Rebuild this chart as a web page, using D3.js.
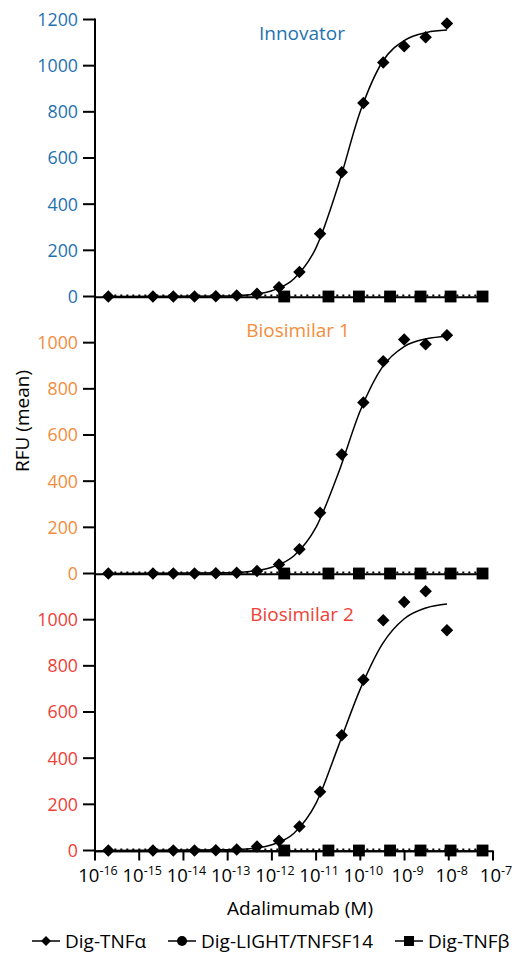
<!DOCTYPE html>
<html>
<head>
    <title>Adalimumab binding - RFU</title>
    <script src="https://d3js.org/d3.v7.min.js"></script>
    <style>
        body {
            margin: 0;
            background: #fff;
            font-family: "Open Sans", Arial, sans-serif;
        }
        svg text {
            font-family: "Open Sans", Arial, sans-serif;
        }
    </style>
</head>
<body>
    <div id="chart"></div>

    <script>
        // Concentrations (M) of the TNFa points
        const tnfaConc = [2.0e-16, 2.04e-15, 5.9e-15, 1.78e-14, 5.4e-14, 1.6e-13, 4.6e-13, 1.45e-12,
                          4.2e-12, 1.23e-11, 3.8e-11, 1.17e-10, 3.3e-10, 9.8e-10, 3.0e-9, 9.1e-9];
        // Concentrations of the TNFb / LIGHT points
        const otherConc = [1.9e-12, 1.9e-11, 9.3e-11, 4.7e-10, 2.3e-9, 1.1e-8, 5.8e-8];

        // Dig-TNFa RFU per panel
        const tnfaInnovator = [0, 0, 0, 0, 1, 4, 12, 40, 106, 272, 538, 838, 1014, 1084, 1123, 1183];
        const tnfaBio1 = [0, 0, 0, 0, 1, 3, 11, 39, 105, 263, 516, 741, 920, 1014, 993, 1032];
        const tnfaBio2 = [0, 0, 0, 0, 1, 4, 17, 42, 104, 254, 499, 740, 997, 1077, 1123, 954];

        // Dig-LIGHT/TNFSF14 and Dig-TNFb RFU (flat at zero)
        const lightValues = [0, 0, 0, 0, 0, 0, 0];
        const tnfbValues = [0, 0, 0, 0, 0, 0, 0];

        // Fitted curve (log10 M -> RFU)
        const fitLogX = [-15.7, -13, -12.5, -12, -11.5, -11, -10.5, -10, -9.5, -9, -8.5, -8.04];
        const fitInnovator = [0, 2.6, 8, 25, 77, 212, 481, 802, 1017, 1110, 1144, 1154];
        const fitBio1 = [0, 3, 9, 27, 77, 201, 433, 706, 895, 984, 1017, 1028];
        const fitBio2 = [0, 3, 8, 25, 75, 205, 450, 700, 895, 1005, 1052, 1068];

        const panelNames = ['Innovator', 'Biosimilar 1', 'Biosimilar 2'];
        const panelColors = ['#1f72b0', '#f48c3b', '#ee4136'];
        const panelTicks = [[0, 200, 400, 600, 800, 1000, 1200], [0, 200, 400, 600, 800, 1000], [0, 200, 400, 600, 800, 1000]];
        const xTickExponents = [-16, -15, -14, -13, -12, -11, -10, -9, -8, -7];
        const legendLabels = ['Dig-TNF\u03b1', 'Dig-LIGHT/TNFSF14', 'Dig-TNF\u03b2'];

        const panels = [
            { name: panelNames[0], color: panelColors[0], ticks: panelTicks[0], tnfa: tnfaInnovator, fit: fitInnovator, titleY: 1113, titleX: 302 },
            { name: panelNames[1], color: panelColors[1], ticks: panelTicks[1], tnfa: tnfaBio1, fit: fitBio1, titleY: 1025, titleX: 298 },
            { name: panelNames[2], color: panelColors[2], ticks: panelTicks[2], tnfa: tnfaBio2, fit: fitBio2, titleY: 993, titleX: 302 }
        ];

        const width = 514, height = 954;
        const plotLeft = 95, plotRight = 493;
        const plotTop = 19.5, panelH = 277;
        const tickFont = 17.8;
        const labelFont = 19;

        const svg = d3.select('#chart').append('svg')
            .attr('width', width)
            .attr('height', height);

        const x = d3.scaleLog().domain([1e-16, 1e-7]).range([plotLeft, plotRight]);

        const diamond = d3.symbol().type(d3.symbolSquare).size(78);
        const square = d3.symbol().type(d3.symbolSquare).size(140);

        panels.forEach((p, i) => {
            const y0 = plotTop + panelH * (i + 1);
            const y = d3.scaleLinear().domain([0, 1200]).range([y0, y0 - panelH]);
            const g = svg.append('g');

            // y ticks + labels
            p.ticks.forEach(t => {
                g.append('line')
                    .attr('x1', plotLeft - 12).attr('x2', plotLeft)
                    .attr('y1', y(t)).attr('y2', y(t))
                    .attr('stroke', '#000').attr('stroke-width', 2);
                g.append('text')
                    .attr('x', plotLeft - 17)
                    .attr('y', y(t))
                    .attr('dy', '0.36em')
                    .attr('text-anchor', 'end')
                    .attr('fill', p.color)
                    .style('font-size', tickFont + 'px')
                    .text(t);
            });

            // baseline (TNFb fit) from the axis to the last square
            g.append('line')
                .attr('x1', plotLeft).attr('x2', x(otherConc[otherConc.length - 1]))
                .attr('y1', y(0) + 0.8).attr('y2', y(0) + 0.8)
                .attr('stroke', '#000').attr('stroke-width', 2);

            // LIGHT dotted line
            g.append('line')
                .attr('x1', x(tnfaConc[0])).attr('x2', x(otherConc[otherConc.length - 1]))
                .attr('y1', y(0) - 1).attr('y2', y(0) - 1)
                .attr('stroke', '#000').attr('stroke-width', 2)
                .attr('stroke-dasharray', '2,4');

            // LIGHT circles (sit under the squares)
            g.selectAll('circle.light')
                .data(otherConc.map((c, j) => [c, lightValues[j]]))
                .join('circle')
                .attr('class', 'light')
                .attr('cx', d => x(d[0]))
                .attr('cy', d => y(d[1]))
                .attr('r', 5)
                .attr('fill', '#000');

            // TNFb squares
            g.selectAll('path.tnfb')
                .data(otherConc.map((c, j) => [c, tnfbValues[j]]))
                .join('path')
                .attr('class', 'tnfb')
                .attr('d', square)
                .attr('transform', d => `translate(${x(d[0])},${y(d[1])})`)
                .attr('fill', '#000');

            // TNFa fit curve
            const line = d3.line()
                .x(d => x(Math.pow(10, d[0])))
                .y(d => y(d[1]))
                .curve(d3.curveMonotoneX);
            g.append('path')
                .datum(fitLogX.map((lx, j) => [lx, p.fit[j]]))
                .attr('d', line)
                .attr('fill', 'none')
                .attr('stroke', '#000')
                .attr('stroke-width', 1.5);

            // TNFa diamonds
            g.selectAll('path.tnfa')
                .data(tnfaConc.map((c, j) => [c, p.tnfa[j]]))
                .join('path')
                .attr('class', 'tnfa')
                .attr('d', diamond)
                .attr('transform', d => `translate(${x(d[0])},${y(d[1])}) rotate(45)`)
                .attr('fill', '#000');

            // panel title
            g.append('text')
                .attr('x', p.titleX)
                .attr('y', y(p.titleY))
                .attr('text-anchor', 'middle')
                .attr('fill', p.color)
                .style('font-size', labelFont + 'px')
                .text(p.name);
        });

        const yBottom = plotTop + panelH * 3;

        // y axis line
        svg.append('line')
            .attr('x1', plotLeft).attr('x2', plotLeft)
            .attr('y1', plotTop - 1).attr('y2', yBottom)
            .attr('stroke', '#000').attr('stroke-width', 2);

        // x axis line
        svg.append('line')
            .attr('x1', plotLeft).attr('x2', plotRight)
            .attr('y1', yBottom + 0.8).attr('y2', yBottom + 0.8)
            .attr('stroke', '#000').attr('stroke-width', 2);

        // x ticks and 10^n labels
        xTickExponents.forEach(e => {
            const xp = x(Math.pow(10, e));
            svg.append('line')
                .attr('x1', xp).attr('x2', xp)
                .attr('y1', yBottom).attr('y2', yBottom + 10)
                .attr('stroke', '#000').attr('stroke-width', 2);
            const t = svg.append('text')
                .attr('x', xp + 3)
                .attr('y', yBottom + 31)
                .attr('text-anchor', 'middle')
                .attr('fill', '#000')
                .style('font-size', '18.5px');
            t.append('tspan').text('10');
            t.append('tspan')
                .attr('dy', '-0.5em')
                .style('font-size', '12.5px')
                .text(e);
        });

        // axis titles
        svg.append('text')
            .attr('x', 300)
            .attr('y', 915)
            .attr('text-anchor', 'middle')
            .style('font-size', labelFont + 'px')
            .text('Adalimumab (M)');

        svg.append('text')
            .attr('transform', 'translate(29,421) rotate(-90)')
            .attr('text-anchor', 'middle')
            .style('font-size', labelFont + 'px')
            .text('RFU (mean)');

        // legend
        const legendX = [32, 168, 395];
        const legendY = 941;
        const legendSymbols = [
            d3.symbol().type(d3.symbolSquare).size(50),
            null,
            d3.symbol().type(d3.symbolSquare).size(100)
        ];
        legendLabels.forEach((label, i) => {
            const lg = svg.append('g').attr('transform', `translate(${legendX[i]},${legendY})`);
            lg.append('line')
                .attr('x1', 0).attr('x2', 28)
                .attr('y1', 0).attr('y2', 0)
                .attr('stroke', '#000').attr('stroke-width', 1.5);
            if (i === 1) {
                lg.append('circle').attr('cx', 14).attr('cy', 0).attr('r', 5).attr('fill', '#000');
            } else {
                lg.append('path')
                    .attr('d', legendSymbols[i])
                    .attr('transform', i === 0 ? 'translate(14,0) rotate(45)' : 'translate(14,0)')
                    .attr('fill', '#000');
            }
            lg.append('text')
                .attr('x', 33)
                .attr('y', 7)
                .style('font-size', labelFont + 'px')
                .text(label);
        });
    </script>
</body>
</html>
